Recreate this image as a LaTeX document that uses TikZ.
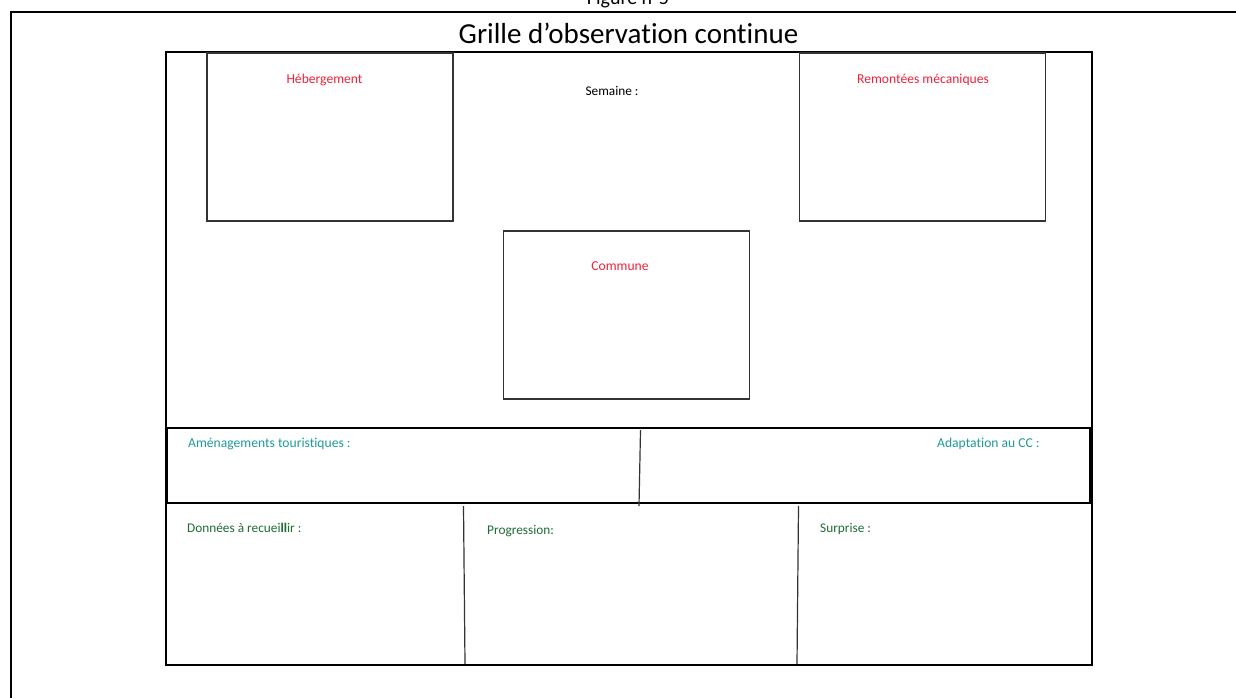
\documentclass[tikz,border=0pt]{standalone}
\usepackage{fontspec}
\setmainfont{Carlito}[Ligatures=NoCommon]
\definecolor{lblred}{HTML}{F0203A}
\definecolor{lblteal}{HTML}{1E9A9A}
\definecolor{lblgreen}{HTML}{1F6B35}
\definecolor{boxgray}{HTML}{333333}
\begin{document}
\begin{tikzpicture}[x=1pt,y=-1pt,
  lblfont/.style={font=\fontsize{13.6}{15}\selectfont},
  box/.style={draw=boxgray,line width=1.2pt,minimum width=246pt,minimum height=168pt,inner sep=0pt},
  redlbl/.style={lblfont,text=lblred,anchor=base,inner sep=0pt},
  teallbl/.style={lblfont,text=lblteal,anchor=base west,inner sep=0pt},
  greenlbl/.style={font=\fontsize{13.3}{15}\selectfont,text=lblgreen,anchor=base west,inner sep=0pt},
  divider/.style={draw=boxgray,line width=1.2pt},
  frame/.style={draw=black,line width=2pt}]
\useasboundingbox (0,0) rectangle (1236,697);
\begin{scope}
\clip (0,0) rectangle (1236,697);
\node[anchor=base,inner sep=0pt,font=\fontsize{20}{24}\selectfont] (fig) at (628,4) {Figure n°5};
% outer page frame
\draw[black,line width=2.4pt] (11,698) -- (11,12) -- (1237,12);
\end{scope}
\node[anchor=base,inner sep=0pt,font=\fontsize{29}{33}\selectfont] (title) at (628.5,43) {Grille d’observation continue};
% inner frame
\draw[frame] (166,52) rectangle (1092,665);
% top boxes
\node[box] (heb) at (330,137) {};
\node[redlbl] (hebl) at (324.5,83) {Hébergement};
\node[box] (rem) at (922.5,137) {};
\node[redlbl] (reml) at (923,83) {Remontées mécaniques};
\node[anchor=base,inner sep=0pt,font=\fontsize{13.3}{15}\selectfont] (sem) at (612,95) {Semaine :};
\node[box] (com) at (626.5,315) {};
\node[redlbl] (coml) at (620,270) {Commune};
% middle band
\coordinate (mtl) at (167,428);
\coordinate (mtr) at (1090,428);
\coordinate (mbl) at (167,503);
\coordinate (mbr) at (1090,503);
\draw[frame,line width=1.4pt] (mtl) -- (mtr) -- (mbr) -- (mbl) -- cycle;
\coordinate (mdt) at (640.5,430);
\coordinate (mdb) at (639,506);
\draw[divider] (mdt) -- (mdb);
\node[teallbl] (amen) at (188,447) {Aménagements touristiques :};
\node[teallbl] (adap) at (937,447) {Adaptation au CC :};
% bottom row
\coordinate (b1t) at (463.5,506);
\coordinate (b1b) at (465,664);
\coordinate (b2t) at (798.5,506);
\coordinate (b2b) at (797,664);
\draw[divider] (b1t) -- (b1b);
\draw[divider] (b2t) -- (b2b);
\node[greenlbl] (don) at (187,532) {Données à recuei\textbf{ll}ir :};
\node[greenlbl] (prog) at (487,534) {Progression:};
\node[greenlbl] (surp) at (820,532) {Surprise :};
\end{tikzpicture}
\end{document}
